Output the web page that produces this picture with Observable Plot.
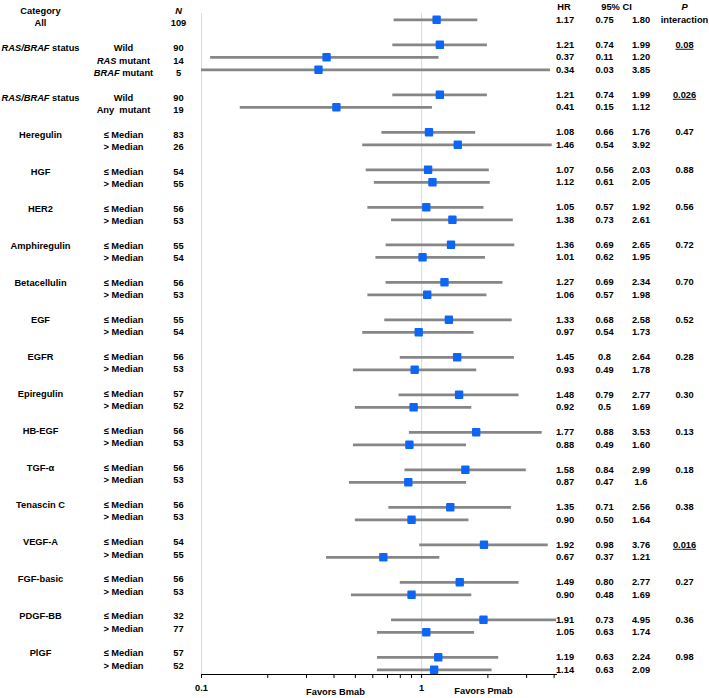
<!DOCTYPE html>
<html><head><meta charset="utf-8">
<script src="https://cdn.jsdelivr.net/npm/d3@7"></script>
<script src="https://cdn.jsdelivr.net/npm/@observablehq/plot@0.6"></script>
<style>
html,body{margin:0;padding:0;background:#fff;}
#chart{position:relative;width:709px;height:698px;}
#chart svg{position:absolute;left:0;top:0;}
</style></head><body><div id="chart"></div>
<script>
const groupLabels = ["All","RAS/BRAF status","RAS/BRAF status","Heregulin","HGF","HER2","Amphiregulin","Betacellulin","EGF","EGFR","Epiregulin","HB-EGF","TGF-α","Tenascin C","VEGF-A","FGF-basic","PDGF-BB","PlGF"];
const med = ["≤ Median","> Median"];
const subgroupLabels = [[""],["Wild","RAS mutant","BRAF mutant"],["Wild","Any\u00a0 mutant"],med,med,med,med,med,med,med,med,med,med,med,med,med,med,med];
const nValues = [[109],[90,14,5],[90,19],[83,26],[54,55],[56,53],[55,54],[56,53],[55,54],[56,53],[57,52],[56,53],[56,53],[56,53],[54,55],[56,53],[32,77],[57,52]];
const hrValues = [["1.17"],["1.21","0.37","0.34"],["1.21","0.41"],["1.08","1.46"],["1.07","1.12"],["1.05","1.38"],["1.36","1.01"],["1.27","1.06"],["1.33","0.97"],["1.45","0.93"],["1.48","0.92"],["1.77","0.88"],["1.58","0.87"],["1.35","0.90"],["1.92","0.67"],["1.49","0.90"],["1.91","1.05"],["1.19","1.14"]];
const ciLow = [["0.75"],["0.74","0.11","0.03"],["0.74","0.15"],["0.66","0.54"],["0.56","0.61"],["0.57","0.73"],["0.69","0.62"],["0.69","0.57"],["0.68","0.54"],["0.8","0.49"],["0.79","0.5"],["0.88","0.49"],["0.84","0.47"],["0.71","0.50"],["0.98","0.37"],["0.80","0.48"],["0.73","0.63"],["0.63","0.63"]];
const ciHigh = [["1.80"],["1.99","1.20","3.85"],["1.99","1.12"],["1.76","3.92"],["2.03","2.05"],["1.92","2.61"],["2.65","1.95"],["2.34","1.98"],["2.58","1.73"],["2.64","1.78"],["2.77","1.69"],["3.53","1.60"],["2.99","1.6"],["2.56","1.64"],["3.76","1.21"],["2.77","1.69"],["4.95","1.74"],["2.24","2.09"]];
const pValues = ["","0.08","0.026","0.47","0.88","0.56","0.72","0.70","0.52","0.28","0.30","0.13","0.18","0.38","0.016","0.27","0.36","0.98"];
const pUnderlined = ["0.08","0.026","0.016"];
const italicPrefixes = ["RAS/BRAF","RAS","BRAF"];
const xDomain = [0.1, 4.1];
const xTicks = [0.1,0.2,0.3,0.4,0.5,0.6,0.7,0.8,0.9,1,2,3,4];
const xTickLabels = [0.1, 1];

const rows = [];
let slot = 0;
groupLabels.forEach((g, gi) => {
  subgroupLabels[gi].forEach((s, j) => {
    rows.push({
      slot: slot + j,
      cat: j === 0 ? g : "",
      sub: s,
      n: String(nValues[gi][j]),
      hrText: hrValues[gi][j], loText: ciLow[gi][j], hiText: ciHigh[gi][j],
      hr: +hrValues[gi][j], lo: +ciLow[gi][j], hi: +ciHigh[gi][j],
      p: j === 0 ? pValues[gi] : ""
    });
  });
  slot += subgroupLabels[gi].length + 1;
});

const font = {fontFamily: '"Liberation Sans", Arial, sans-serif', fontSize: "9.3px", fontWeight: "bold", background: "transparent", color: "#000", overflow: "visible"};
const blue = "#0d66f5", gray = "#868686";
const T = {textAnchor: "middle", lineAnchor: "middle"};

const main = Plot.plot({
  width: 709, height: 698,
  marginLeft: 201, marginRight: 153, marginTop: 13, marginBottom: 24,
  style: font,
  x: {type: "log", domain: xDomain, clamp: true, ticks: xTicks,
      tickFormat: d => xTickLabels.includes(d) ? String(d) : "",
      tickSize: 4, tickPadding: 6, line: true, label: null},
  y: {domain: [-0.504, 52.376], reverse: true, axis: null},
  marks: [
    Plot.ruleX([xDomain[0], 1], {stroke: "#d9d9d9", strokeWidth: 1}),
    Plot.ruleY(rows, {y: "slot", x1: "lo", x2: "hi", stroke: gray, strokeWidth: 2.8}),
    Plot.dot(rows, {x: "hr", y: "slot", symbol: "square", r: 3.6, fill: blue, stroke: blue, strokeWidth: 2, strokeLinejoin: "round"}),
    Plot.text(rows, {...T, y: "slot", text: "hrText", frameAnchor: "right", dx: 8.5}),
    Plot.text(rows, {...T, y: "slot", text: "loText", frameAnchor: "right", dx: 48}),
    Plot.text(rows, {...T, y: "slot", text: "hiText", frameAnchor: "right", dx: 84.5}),
    Plot.text(rows, {...T, y: "slot", text: "p", frameAnchor: "right", dx: 128}),
    Plot.text(["HR"], {...T, text: d => d, y: () => -1, frameAnchor: "right", dx: 7.5}),
    Plot.text(["95% CI"], {...T, text: d => d, y: () => -1, frameAnchor: "right", dx: 60}),
    Plot.text(["P"], {...T, text: d => d, y: () => -1, frameAnchor: "right", dx: 128, fontStyle: "italic"}),
    Plot.text(["interaction"], {...T, text: d => d, y: () => 0, frameAnchor: "right", dx: 128}),
    Plot.text(["Favors Bmab"], {...T, text: d => d, frameAnchor: "bottom-left", dx: 134, dy: 17.5}),
    Plot.text(["Favors Pmab"], {...T, text: d => d, frameAnchor: "bottom-left", dx: 282, dy: 16.5})
  ]
});

const left = Plot.plot({
  width: 709, height: 698, margin: 0,
  style: font,
  y: {domain: [-1.862, 54.656], reverse: true, axis: null},
  marks: [
    Plot.text(["Category"], {...T, text: d => d, y: () => -1, frameAnchor: "left", dx: 40}),
    Plot.text(["N"], {...T, text: d => d, y: () => -1, frameAnchor: "left", dx: 178, fontStyle: "italic"}),
    Plot.text(rows, {...T, y: "slot", text: "cat", frameAnchor: "left", dx: 40}),
    Plot.text(rows, {...T, y: "slot", text: "sub", frameAnchor: "left", dx: 123}),
    Plot.text(rows, {...T, y: "slot", text: "n", frameAnchor: "left", dx: 178})
  ]
});

const ns = "http://www.w3.org/2000/svg";
left.querySelectorAll("text").forEach(t => {
  const s = t.textContent;
  const pre = italicPrefixes.find(p => s.startsWith(p + " "));
  if (pre) {
    t.textContent = "";
    const a = document.createElementNS(ns, "tspan");
    a.setAttribute("font-style", "italic");
    a.textContent = pre;
    const b = document.createElementNS(ns, "tspan");
    b.textContent = s.slice(pre.length);
    t.appendChild(a); t.appendChild(b);
  }
});
main.querySelectorAll("text").forEach(t => {
  if (pUnderlined.includes(t.textContent)) t.setAttribute("text-decoration", "underline");
});

const chart = document.getElementById("chart");
chart.appendChild(main);
chart.appendChild(left);
</script></body></html>
